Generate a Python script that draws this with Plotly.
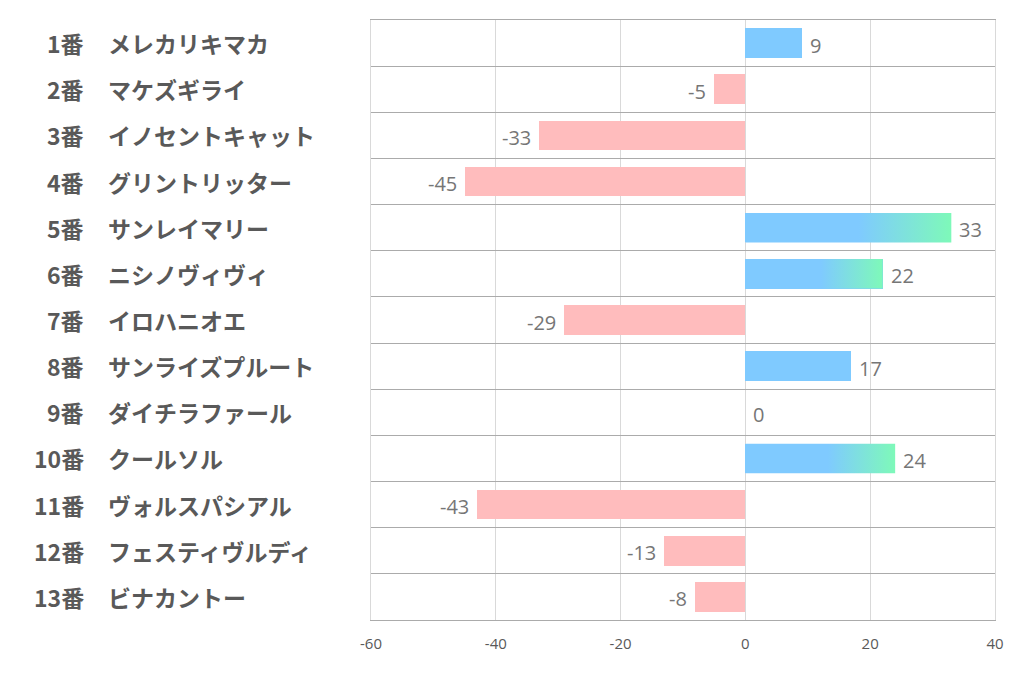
import plotly.graph_objects as go

numbers = ["1番", "2番", "3番", "4番", "5番", "6番", "7番", "8番", "9番", "10番", "11番", "12番", "13番"]
names = ["メレカリキマカ", "マケズギライ", "イノセントキャット", "グリントリッター", "サンレイマリー",
         "ニシノヴィヴィ", "イロハニオエ", "サンライズプルート", "ダイチラファール", "クールソル",
         "ヴォルスパシアル", "フェスティヴルディ", "ビナカントー"]
values = [9, -5, -33, -45, 33, 22, -29, 17, 0, 24, -43, -13, -8]
gradient_rows = [4, 5, 9]  # rows drawn with blue→green gradient
x_ticks = [-60, -40, -20, 0, 20, 40]

BLUE = "#7fcaff"
PINK = "#ffbcbd"
GREEN = "#7ef9b9"
BAR_W = 0.64

n = len(values)
ys = list(range(n))
colors = [BLUE if v >= 0 else PINK for v in values]

fig = go.Figure()
fig.add_trace(go.Bar(
    x=values, y=ys, orientation="h", width=BAR_W,
    marker=dict(color=colors, line=dict(width=0)),
    hoverinfo="skip", showlegend=False,
))

# gradient overlays for selected bars
for i in gradient_rows:
    v = values[i]
    y0, y1 = i - BAR_W / 2, i + BAR_W / 2
    fig.add_trace(go.Scatter(
        x=[0, v, v, 0, 0], y=[y0, y0, y1, y1, y0],
        mode="lines", line=dict(width=0), fill="toself",
        fillgradient=dict(type="horizontal",
                          colorscale=[[0, BLUE], [0.55, BLUE], [1, GREEN]]),
        hoverinfo="skip", showlegend=False,
    ))

# value labels
for i, v in enumerate(values):
    fig.add_annotation(
        x=v, y=i, text=str(v), showarrow=False,
        xanchor="left" if v >= 0 else "right",
        xshift=6 if v >= 0 else -6, yshift=-2,
        font=dict(family="Open Sans, Noto Sans, sans-serif", size=20, color="#767676"),
    )

# page has an 8px body margin; figure pixel = page pixel - 8
L, R, T, B = 363, 35, 12, 66
plot_w = 1022 - L - R

LABEL_FONT = dict(family="Noto Sans CJK JP", size=23, color="#595959", weight="bold")
for i, (num, nm) in enumerate(zip(numbers, names)):
    fig.add_annotation(
        x=(78 - L) / plot_w, y=i, xref="paper", text=num, showarrow=False,
        xanchor="right", font=LABEL_FONT,
    )
    fig.add_annotation(
        x=(98 - L) / plot_w, y=i, xref="paper", text=nm, showarrow=False,
        xanchor="left", font=LABEL_FONT,
    )

fig.update_layout(
    width=1022, height=678,
    margin=dict(l=L, r=R, t=T, b=B),
    plot_bgcolor="white", paper_bgcolor="white",
    bargap=0, showlegend=False,
    xaxis=dict(range=[-60, 40], tickvals=x_ticks, ticktext=[str(t) for t in x_ticks],
               showgrid=True, gridcolor="#d9d9d9",
               gridwidth=1, zeroline=False, showline=True, mirror=True,
               linecolor="#ababab", linewidth=1,
               tickfont=dict(family="Open Sans, Noto Sans, sans-serif", size=15, color="#595959"),
               ticks="outside", ticklen=10, tickcolor="rgba(0,0,0,0)", fixedrange=True),
    yaxis=dict(range=[n - 0.5, -0.5], tickvals=[k - 0.5 for k in range(n + 1)],
               showticklabels=False, showgrid=True, gridcolor="#ababab", gridwidth=1,
               zeroline=False, showline=True, mirror=True, linecolor="#d9d9d9",
               ticks="", fixedrange=True),
)

fig.write_html("out.html")
